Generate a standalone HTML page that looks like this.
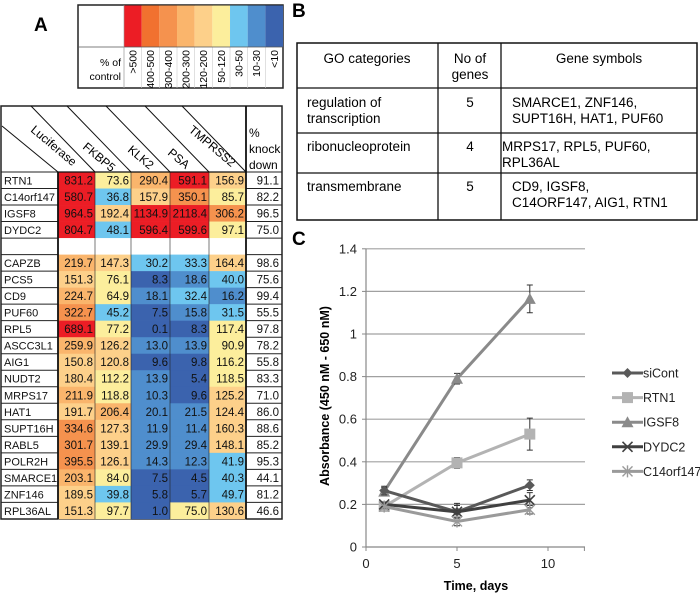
<!DOCTYPE html>
<html><head><meta charset="utf-8"><style>
body{margin:0;background:#fff}
svg{display:block;font-family:"Liberation Sans",sans-serif}
</style></head><body>
<svg id="fig" width="700" height="597" viewBox="0 0 700 597" xmlns="http://www.w3.org/2000/svg">
<text x="34" y="31" font-size="19" font-weight="bold">A</text>
<text x="292" y="17" font-size="19" font-weight="bold">B</text>
<text x="292" y="245" font-size="19" font-weight="bold">C</text>
<g id="legendA"></g>
<g id="heat"></g>
<g id="goTable"></g>
<g id="chart"></g>
</svg>
<script>
var NS="http://www.w3.org/2000/svg";
function mk(p,t,a,txt){var e=document.createElementNS(NS,t);for(var k in a)e.setAttribute(k,a[k]);if(txt!==undefined)e.textContent=txt;p.appendChild(e);return e;}

// ---- Heatmap data ----
var genes=["RTN1","C14orf147","IGSF8","DYDC2","","CAPZB","PCS5","CD9","PUF60","RPL5","ASCC3L1","AIG1","NUDT2","MRPS17","HAT1","SUPT16H","RABL5","POLR2H","SMARCE1","ZNF146","RPL36AL"];
var luciferase=[831.2,580.7,964.5,804.7,null,219.7,151.3,224.7,322.7,689.1,259.9,150.8,180.4,211.9,191.7,334.6,301.7,395.5,203.1,189.5,151.3];
var fkbp5=[73.6,36.8,192.4,48.1,null,147.3,76.1,64.9,45.2,77.2,126.2,120.8,112.2,118.8,206.4,127.3,139.1,126.1,84.0,39.8,97.7];
var klk2=[290.4,157.9,1134.9,596.4,null,30.2,8.3,18.1,7.5,0.1,13.0,9.6,13.9,10.3,20.1,11.9,29.9,14.3,7.5,5.8,1.0];
var psa=[591.1,350.1,2118.4,599.6,null,33.3,18.6,32.4,15.8,8.3,13.9,9.8,5.4,9.6,21.5,11.4,29.4,12.3,4.5,5.7,75.0];
var tmprss2=[156.9,85.7,306.2,97.1,null,164.4,40.0,16.2,31.5,117.4,90.9,116.2,118.5,125.2,124.4,160.3,148.1,41.9,40.3,49.7,130.6];
var knockdown=[91.1,82.2,96.5,75.0,null,98.6,75.6,99.4,55.5,97.8,78.2,55.8,83.3,71.0,86.0,88.6,85.2,95.3,44.1,81.2,46.6];
var colNames=["Luciferase","FKBP5","KLK2","PSA","TMPRSS2"];
var scaleLabels=[">500","400-500","300-400","200-300","120-200","50-120","30-50","10-30","<10"];
var scaleLow=[500,400,300,200,120,50,30,10,-1];
var scaleColors=["#ec1d25","#f1712f","#f5924e","#fab56c","#fdd08a","#fcee9c","#6ec6ef","#4f8ecd","#3b63ae"];
function colorOf(v){for(var i=0;i<scaleLow.length;i++)if(v>scaleLow[i])return scaleColors[i];return scaleColors[8];}

// legend
var L=document.getElementById("legendA");
mk(L,"rect",{x:78,y:5,width:205,height:83,fill:"#fff",stroke:"#222","stroke-width":1.5});
scaleLabels.forEach(function(s,i){
  var x=124+i*17.67;
  var r=mk(L,"rect",{x:x,y:5.5,width:17.67,height:41.5,fill:scaleColors[i]});
  
  
  mk(L,"line",{x1:x,y1:47,x2:x,y2:88,stroke:"#ccc","stroke-width":0.6});
  var t=mk(L,"text",{x:0,y:0,"font-size":10.5,"text-anchor":"end",transform:"translate("+(x+12.5)+",50) rotate(-90)"},s);
  
  
});
mk(L,"line",{x1:78,y1:47,x2:283,y2:47,stroke:"#555","stroke-width":0.8});
mk(L,"line",{x1:124,y1:5,x2:124,y2:88,stroke:"#999","stroke-width":0.6});
mk(L,"text",{x:121,y:66,"font-size":10.5,"text-anchor":"end"},"% of");
mk(L,"text",{x:121,y:80,"font-size":10.5,"text-anchor":"end"},"control");

// heatmap
var H=document.getElementById("heat");
var top0=172,rh=16.52,colX=[58,95,131,170,209,246,282];
var cols=[luciferase,fkbp5,klk2,psa,tmprss2];
mk(H,"rect",{x:1,y:106,width:281,height:413,fill:"#fff",stroke:"#222","stroke-width":1.5});
genes.forEach(function(g,i){
  var y=top0+i*rh;
  cols.forEach(function(arr,c){
    var v=arr[i];
    var r=mk(H,"rect",{x:colX[c],y:y,width:colX[c+1]-colX[c],height:rh+0.3,fill:v===null?"#ffffff":colorOf(v)});
    
    
    if(v!==null){var t=mk(H,"text",{x:colX[c+1]-2,y:y+12.5,"font-size":11.5,"text-anchor":"end",fill:"#111"},v.toFixed(1));
      
      }
  });
  var nt=mk(H,"text",{x:4,y:y+12.5,"font-size":11,fill:"#111"},g);
  if(g.length>7)nt.setAttribute('textLength',51);
  
  
  if(knockdown[i]!==null){var kt=mk(H,"text",{x:279,y:y+12.5,"font-size":11.5,"text-anchor":"end",fill:"#111"},knockdown[i].toFixed(1));
    
    }
  mk(H,"line",{x1:1,y1:y,x2:58,y2:y,stroke:"#222","stroke-width":1});
  mk(H,"line",{x1:246,y1:y,x2:282,y2:y,stroke:"#222","stroke-width":1});
});
[95,131,170,209].forEach(function(x){mk(H,"line",{x1:x,y1:top0,x2:x,y2:519,stroke:"#222","stroke-width":0.6});});
mk(H,"line",{x1:58,y1:172,x2:58,y2:519,stroke:"#111","stroke-width":1.8});
mk(H,"line",{x1:246,y1:106,x2:246,y2:519,stroke:"#111","stroke-width":1.8});
mk(H,"line",{x1:58,y1:172,x2:246,y2:172,stroke:"#111","stroke-width":1.2});
mk(H,"line",{x1:2,y1:126,x2:58,y2:172,stroke:"#111","stroke-width":1});
[95,131,170,209,246].forEach(function(x){mk(H,"line",{x1:x-64,y1:106,x2:x,y2:172,stroke:"#111","stroke-width":1});});
var lab=[[30,131,"Luciferase"],[82,148,"FKBP5"],[127,151,"KLK2"],[167,154,"PSA"],[188,131,"TMPRSS2"]];
lab.forEach(function(l){var t=mk(H,"text",{x:0,y:0,"font-size":12,transform:"translate("+l[0]+","+l[1]+") rotate(40)"},l[2]);
  
  });
mk(H,"text",{x:249,y:137,"font-size":12},"%");
mk(H,"text",{x:249,y:153,"font-size":12},"knock");
mk(H,"text",{x:249,y:169,"font-size":12},"down");

// GO table
var G=document.getElementById("goTable");
mk(G,"rect",{x:297,y:43,width:400,height:177,fill:"#fff",stroke:"#111","stroke-width":1.5});
[88,133,173].forEach(function(y){mk(G,"line",{x1:297,y1:y,x2:697,y2:y,stroke:"#111","stroke-width":1.3});});
[438,501].forEach(function(x){mk(G,"line",{x1:x,y1:43,x2:x,y2:220,stroke:"#111","stroke-width":1.3});});
var goRows=[
 [["GO categories"],["No of","genes"],["Gene symbols"],58],
 [["regulation of","transcription"],["5"],["SMARCE1, ZNF146,","SUPT16H, HAT1, PUF60"],102],
 [["ribonucleoprotein"],["4"],["MRPS17, RPL5, PUF60,","RPL36AL"],146],
 [["transmembrane"],["5"],["CD9, IGSF8,","C14ORF147, AIG1, RTN1"],186]];
goRows.forEach(function(r,ri){
  var y=r[3];
  r[0].forEach(function(s,k){mk(G,"text",{x:ri==0?367:307,y:y+k*16+5,"font-size":13.5,"text-anchor":ri==0?"middle":"start"},s);});
  r[1].forEach(function(s,k){mk(G,"text",{x:470,y:y+k*16+5,"font-size":13.5,"text-anchor":"middle"},s);});
  r[2].forEach(function(s,k){mk(G,"text",{x:ri==0?599:(ri==2?502:512),y:y+k*16+5,"font-size":13.5,"text-anchor":ri==0?"middle":"start"},s);});
});

// ---- Line chart data ----
var days=[1,5,9];
var siCont=[0.265,0.165,0.29], siContErr=[0.02,0.04,0.025];
var rtn1=[0.19,0.395,0.53], rtn1Err=[0.01,0.025,0.075];
var igsf8=[0.26,0.79,1.165], igsf8Err=[0.02,0.025,0.065];
var dydc2=[0.2,0.165,0.22], dydc2Err=[0.01,0.03,0.035];
var c14orf147=[0.19,0.12,0.175], c14orf147Err=[0.01,0.02,0.02];
var yTicks=[0,0.2,0.4,0.6,0.8,1,1.2,1.4];
var xTicks=[0,5,10];
var seriesNames=["siCont","RTN1","IGSF8","DYDC2","C14orf147"];
var C=document.getElementById("chart");
function sx(v){return 366+v*18.2;}
function sy(v){return 547-v*213;}
yTicks.forEach(function(t){
  if(t>0)mk(C,"line",{x1:366,y1:sy(t),x2:585,y2:sy(t),stroke:"#a0a0a0","stroke-width":1.2});
  mk(C,"line",{x1:362,y1:sy(t),x2:366,y2:sy(t),stroke:"#888"});
  var tt=mk(C,"text",{x:357,y:sy(t)+4.5,"font-size":13,"text-anchor":"end",fill:"#222"},String(t));
  
  
});
mk(C,"line",{x1:366,y1:sy(0),x2:585,y2:sy(0),stroke:"#888","stroke-width":1.2});
mk(C,"line",{x1:366,y1:sy(1.4),x2:366,y2:sy(0),stroke:"#888","stroke-width":1.2});
xTicks.forEach(function(t){
  mk(C,"line",{x1:sx(t),y1:547,x2:sx(t),y2:551,stroke:"#888"});
  var tt=mk(C,"text",{x:sx(t),y:568,"font-size":13,"text-anchor":"middle",fill:"#222"},String(t));
  
  
});
mk(C,"line",{x1:sx(12),y1:547,x2:sx(12),y2:551,stroke:"#888"});
mk(C,"text",{x:476,y:590,"font-size":12.5,"font-weight":"bold","text-anchor":"middle"},"Time, days");
mk(C,"text",{x:0,y:0,"font-size":12.5,"font-weight":"bold","text-anchor":"middle",transform:"translate(329,396) rotate(-90)"},"Absorbance (450 nM - 650 nM)");

var allData=[siCont,rtn1,igsf8,dydc2,c14orf147];
var allErr=[siContErr,rtn1Err,igsf8Err,dydc2Err,c14orf147Err];
var colors=["#595959","#b3b3b3","#8a8a8a","#404040","#9a9a9a"];
var markers=["diamond","square","triangle","x","star"];
function marker(g,type,x,y,col){
  if(type=="diamond")mk(g,"polygon",{points:(x)+","+(y-5)+" "+(x+5)+","+y+" "+x+","+(y+5)+" "+(x-5)+","+y,fill:col});
  else if(type=="square")mk(g,"rect",{x:x-5.5,y:y-5.5,width:11,height:11,fill:col});
  else if(type=="triangle")mk(g,"polygon",{points:x+","+(y-6)+" "+(x+6)+","+(y+5)+" "+(x-6)+","+(y+5),fill:col});
  else if(type=="x"){mk(g,"path",{d:"M"+(x-5)+" "+(y-5)+"L"+(x+5)+" "+(y+5)+"M"+(x+5)+" "+(y-5)+"L"+(x-5)+" "+(y+5),stroke:col,"stroke-width":1.6});}
  else {mk(g,"path",{d:"M"+(x-5)+" "+(y-5)+"L"+(x+5)+" "+(y+5)+"M"+(x+5)+" "+(y-5)+"L"+(x-5)+" "+(y+5)+"M"+x+" "+(y-6)+"L"+x+" "+(y+6),stroke:col,"stroke-width":1.4});}
}
[1,2,0,3,4].forEach(function(si){
  var g=mk(C,"g",{});
  
  
  var d=allData[si],e=allErr[si],col=colors[si];
  var pts=days.map(function(x,i){return sx(x)+","+sy(d[i]);}).join(" ");
  mk(g,"polyline",{points:pts,fill:"none",stroke:col,"stroke-width":3});
  days.forEach(function(x,i){
    var X=sx(x);
    mk(g,"path",{d:"M"+X+" "+sy(d[i]-e[i])+"L"+X+" "+sy(d[i]+e[i])+"M"+(X-3)+" "+sy(d[i]-e[i])+"L"+(X+3)+" "+sy(d[i]-e[i])+"M"+(X-3)+" "+sy(d[i]+e[i])+"L"+(X+3)+" "+sy(d[i]+e[i]),stroke:"#333","stroke-width":1});
    marker(g,markers[si],X,sy(d[i]),col);
  });
});
seriesNames.forEach(function(n,i){
  var y=373+i*24.6;
  var g=mk(C,"g",{});
  
  
  mk(g,"line",{x1:612,y1:y,x2:643,y2:y,stroke:colors[i],"stroke-width":3});
  marker(g,markers[i],627.5,y,colors[i]);
  mk(g,"text",{x:643,y:y+4.5,"font-size":12.5,fill:"#222"},n);
});
</script>
</body></html>
